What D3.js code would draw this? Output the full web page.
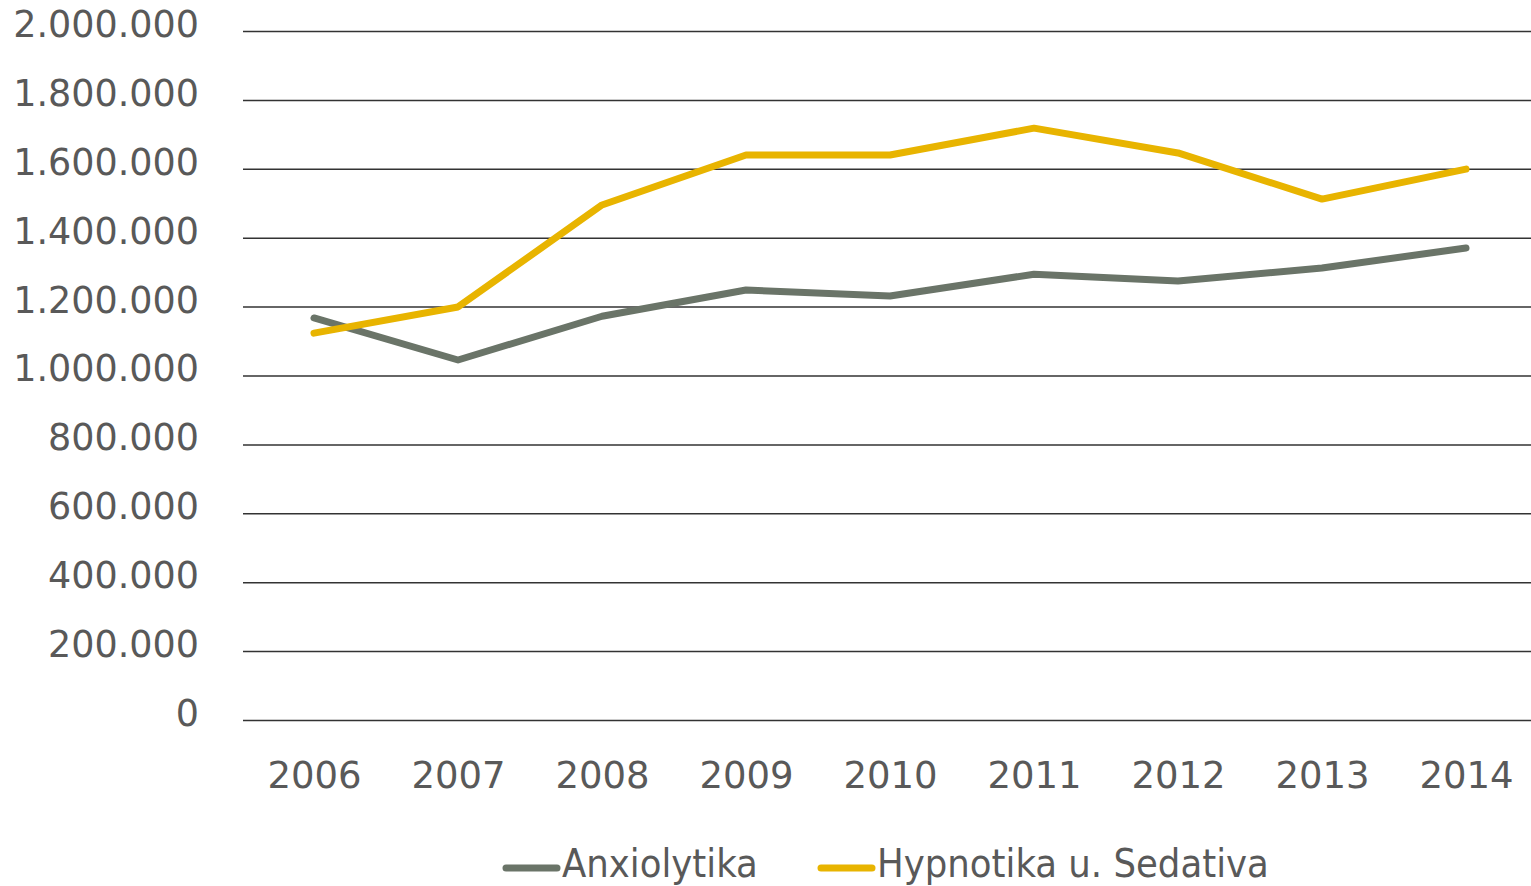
<!DOCTYPE html>
<html><head><meta charset="utf-8">
<script src="https://cdn.jsdelivr.net/npm/d3@7"></script>
<style>body{margin:0;background:#fff}svg{display:block}</style>
</head><body><svg id="c" width="1531" height="886"></svg>
<script>
const years = ["2006","2007","2008","2009","2010","2011","2012","2013","2014"];
const anxiolytika = [1167000,1045000,1172000,1248000,1231000,1294000,1274000,1312000,1370000];
const hypnotika = [1123000,1199000,1495000,1640000,1640000,1718000,1646000,1512000,1599000];
const yTicks = [0,200000,400000,600000,800000,1000000,1200000,1400000,1600000,1800000,2000000];
const seriesNames = ["Anxiolytika","Hypnotika u. Sedativa"];
const colors = ["#6a7468","#e8b400"];

(function(){
const svg = d3.select("#c");
const mL = 243, mR = 1531, mT = 31, mB = 720;
const x = d3.scalePoint().domain(years).range([314, 1466]);
const y = d3.scaleLinear().domain([0,2000000]).range([mB, mT]);
const fmt = v => d3.format(",")(v).replace(/,/g,".");
const font = "'DejaVu Sans', sans-serif";

const ga = svg.append("g").attr("transform",`translate(${mL},0)`)
  .call(d3.axisLeft(y).tickValues(yTicks).tickFormat(fmt).tickSize(-(mR-mL)).tickPadding(44));
ga.select(".domain").remove();
ga.selectAll(".tick line").attr("stroke","#333").attr("stroke-width",1.5);
ga.selectAll(".tick text").attr("fill","#595959").style("font-family",font).style("font-size","36.5px").attr("dy","0.15em");

const gx = svg.append("g").attr("transform",`translate(0,${mB})`)
  .call(d3.axisBottom(x).tickSize(0).tickPadding(42));
gx.select(".domain").remove();
gx.selectAll(".tick text").attr("fill","#595959").style("font-family",font).style("font-size","37px");

const line = d3.line().x((d,i)=>x(years[i])).y(d=>y(d));
[anxiolytika, hypnotika].forEach((s,k)=>{
  svg.append("path").datum(s).attr("d",line).attr("fill","none")
    .attr("stroke",colors[k]).attr("stroke-width",7).attr("stroke-linecap","round").attr("stroke-linejoin","round");
});

const legX = [503, 818];
seriesNames.forEach((n,k)=>{
  const g = svg.append("g").attr("transform",`translate(${legX[k]},868)`);
  g.append("line").attr("x1",3).attr("x2",54).attr("y1",0).attr("y2",0)
    .attr("stroke",colors[k]).attr("stroke-width",7).attr("stroke-linecap","round");
  g.append("text").attr("x",59).attr("y",-5).attr("dy","0.36em").text(n)
    .attr("fill","#595959").style("font-family","'DejaVu Sans Condensed', 'DejaVu Sans', sans-serif").style("font-size","39.5px");
});
})();
</script></body></html>
